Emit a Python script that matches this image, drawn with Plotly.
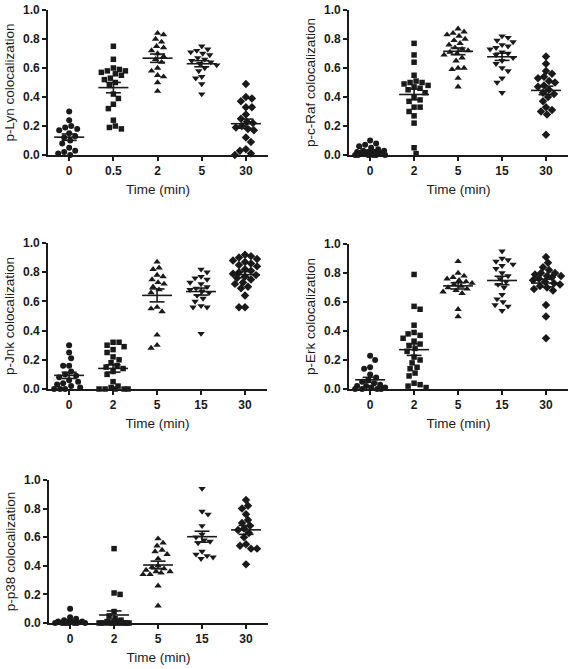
import numpy as np
import plotly.graph_objects as go

# ---------------- data ----------------
lyn_labels = ["0", "0.5", "2", "5", "30"]
other_labels = ["0", "2", "5", "15", "30"]

lyn_0 = [0.30, 0.24, 0.20, 0.19, 0.18, 0.17, 0.15, 0.13, 0.12, 0.10, 0.08, 0.05, 0.03, 0.02, 0.01, 0.0]
lyn_05 = [0.75, 0.66, 0.60, 0.59, 0.58, 0.58, 0.57, 0.56, 0.55, 0.53, 0.52, 0.50, 0.48, 0.42, 0.39, 0.35, 0.32, 0.24, 0.20, 0.19, 0.18]
lyn_2 = [0.84, 0.83, 0.80, 0.78, 0.75, 0.74, 0.72, 0.70, 0.68, 0.66, 0.64, 0.60, 0.58, 0.55, 0.54, 0.50, 0.44]
lyn_5 = [0.75, 0.73, 0.72, 0.71, 0.70, 0.69, 0.67, 0.66, 0.65, 0.64, 0.63, 0.62, 0.60, 0.58, 0.54, 0.53, 0.49, 0.42]
lyn_30 = [0.49, 0.40, 0.39, 0.37, 0.33, 0.33, 0.28, 0.25, 0.23, 0.22, 0.20, 0.19, 0.18, 0.17, 0.12, 0.09, 0.04, 0.03, 0.01, 0.0]

raf_0 = [0.10, 0.08, 0.07, 0.06, 0.05, 0.04, 0.03, 0.03, 0.02, 0.02, 0.02, 0.01, 0.01, 0.01, 0.01, 0.0, 0.0, 0.0, 0.0, 0.0, 0.0]
raf_2 = [0.77, 0.69, 0.64, 0.55, 0.51, 0.50, 0.50, 0.49, 0.48, 0.47, 0.46, 0.45, 0.43, 0.40, 0.38, 0.37, 0.33, 0.33, 0.30, 0.27, 0.22, 0.05, 0.01]
raf_5 = [0.87, 0.85, 0.84, 0.83, 0.82, 0.80, 0.79, 0.77, 0.76, 0.74, 0.73, 0.72, 0.71, 0.70, 0.69, 0.67, 0.65, 0.60, 0.60, 0.59, 0.53, 0.47]
raf_15 = [0.82, 0.81, 0.79, 0.78, 0.76, 0.75, 0.74, 0.73, 0.71, 0.70, 0.69, 0.67, 0.65, 0.63, 0.60, 0.58, 0.53, 0.50, 0.43]
raf_30 = [0.68, 0.63, 0.58, 0.56, 0.54, 0.53, 0.51, 0.50, 0.48, 0.47, 0.45, 0.43, 0.42, 0.40, 0.37, 0.33, 0.31, 0.30, 0.28, 0.14]

jnk_0 = [0.30, 0.25, 0.21, 0.16, 0.16, 0.12, 0.10, 0.09, 0.08, 0.06, 0.05, 0.04, 0.03, 0.02, 0.01, 0.0, 0.0, 0.0]
jnk_2 = [0.32, 0.32, 0.30, 0.29, 0.27, 0.25, 0.22, 0.20, 0.18, 0.16, 0.15, 0.14, 0.12, 0.10, 0.05, 0.02, 0.01, 0.0, 0.0, 0.0, 0.0, 0.0]
jnk_5 = [0.87, 0.83, 0.82, 0.78, 0.77, 0.75, 0.73, 0.72, 0.70, 0.68, 0.66, 0.56, 0.55, 0.53, 0.37, 0.30, 0.28]
jnk_15 = [0.82, 0.80, 0.77, 0.76, 0.75, 0.73, 0.72, 0.70, 0.69, 0.68, 0.67, 0.66, 0.64, 0.62, 0.60, 0.57, 0.56, 0.56, 0.38]
jnk_30 = [0.92, 0.91, 0.90, 0.89, 0.88, 0.87, 0.86, 0.85, 0.84, 0.82, 0.81, 0.80, 0.79, 0.78, 0.77, 0.76, 0.75, 0.73, 0.72, 0.70, 0.69, 0.64, 0.56, 0.56]

erk_0 = [0.23, 0.20, 0.15, 0.14, 0.10, 0.08, 0.06, 0.05, 0.04, 0.03, 0.02, 0.02, 0.01, 0.01, 0.0, 0.0, 0.0, 0.0]
erk_2 = [0.79, 0.57, 0.55, 0.44, 0.39, 0.38, 0.37, 0.35, 0.33, 0.31, 0.30, 0.28, 0.26, 0.22, 0.20, 0.18, 0.15, 0.14, 0.11, 0.09, 0.04, 0.03, 0.02, 0.01]
erk_5 = [0.88, 0.80, 0.78, 0.77, 0.76, 0.75, 0.74, 0.73, 0.72, 0.71, 0.70, 0.69, 0.68, 0.67, 0.66, 0.55, 0.50]
erk_15 = [0.95, 0.90, 0.89, 0.88, 0.86, 0.85, 0.83, 0.80, 0.78, 0.76, 0.74, 0.72, 0.70, 0.65, 0.62, 0.60, 0.58, 0.57, 0.54]
erk_30 = [0.91, 0.87, 0.84, 0.82, 0.80, 0.80, 0.79, 0.78, 0.78, 0.77, 0.76, 0.75, 0.74, 0.73, 0.72, 0.71, 0.70, 0.69, 0.68, 0.58, 0.50, 0.35]

p38_0 = [0.10, 0.04, 0.03, 0.02, 0.01, 0.01, 0.01, 0.0, 0.0, 0.0, 0.0, 0.0, 0.0, 0.0]
p38_2 = [0.52, 0.21, 0.20, 0.08, 0.05, 0.03, 0.02, 0.01, 0.0, 0.0, 0.0, 0.0, 0.0, 0.0, 0.0, 0.0, 0.0, 0.0, 0.0, 0.0]
p38_5 = [0.59, 0.56, 0.54, 0.51, 0.50, 0.48, 0.45, 0.40, 0.39, 0.38, 0.37, 0.36, 0.36, 0.35, 0.34, 0.34, 0.26, 0.12]
p38_15 = [0.94, 0.78, 0.76, 0.68, 0.62, 0.60, 0.58, 0.57, 0.56, 0.50, 0.48, 0.47, 0.46, 0.45]
p38_30 = [0.86, 0.82, 0.80, 0.76, 0.72, 0.70, 0.68, 0.66, 0.65, 0.63, 0.60, 0.55, 0.54, 0.52, 0.52, 0.41]

y_titles = ["p-Lyn colocalization", "p-c-Raf colocalization", "p-Jnk colocalization",
            "p-Erk colocalization", "p-p38 colocalization"]
x_title = "Time (min)"
y_ticks = [0.0, 0.2, 0.4, 0.6, 0.8, 1.0]

panels = [
    (lyn_labels, [lyn_0, lyn_05, lyn_2, lyn_5, lyn_30]),
    (other_labels, [raf_0, raf_2, raf_5, raf_15, raf_30]),
    (other_labels, [jnk_0, jnk_2, jnk_5, jnk_15, jnk_30]),
    (other_labels, [erk_0, erk_2, erk_5, erk_15, erk_30]),
    (other_labels, [p38_0, p38_2, p38_5, p38_15, p38_30]),
]

# ---------------- layout geometry (pixels) ----------------
W, H = 577, 669
boxes = [  # x0, x1, ytop, ybottom in pixels
    (48, 268, 10, 155),
    (349, 568, 10, 155),
    (48, 267, 243, 389),
    (349, 568, 244, 389),
    (49, 268, 480, 623),
]
symbols = ["circle", "square", "triangle-up", "triangle-down", "diamond"]
msizes = [6, 5.5, 6.5, 6.5, 6.5]
XR = [-0.48, 4.5]
INK = "#1a1a1a"
FONT = "Liberation Sans"


def swarm(vals, px_per_y, px_per_x, d=6.0, maxw=15.0, step=1.0):
    """Greedy beeswarm offsets (category units); width capped like Prism."""
    vals = np.asarray(vals, dtype=float)
    order = np.argsort(-vals, kind="stable")
    placed = []
    offs = np.zeros(len(vals))
    flip = 1
    cands = [0.0]
    k = 1
    while k * step <= maxw:
        cands += [k * step, -k * step]
        k += 1
    for i in order:
        y = vals[i] * px_per_y
        best, bestd = None, -1
        for x in cands:
            xx = x * flip
            md = min([np.hypot(xx - px, y - py) for px, py in placed] or [1e9])
            if md >= d:
                best = xx
                break
            if md > bestd + 1e-9:
                bestd, best = md, xx
        placed.append((best, y))
        offs[i] = best / px_per_x
        if best != 0:
            flip = -flip
    return offs


fig = go.Figure()
layout = {}
for p, ((labels, groups), (x0, x1, yt, yb)) in enumerate(zip(panels, boxes)):
    n = "" if p == 0 else str(p + 1)
    xa, ya = "x" + n, "y" + n
    px_per_x = (x1 - x0) / (XR[1] - XR[0])
    px_per_y = (yb - yt) / 1.0
    for g, vals in enumerate(groups):
        vals = np.asarray(vals, dtype=float)
        offs = swarm(vals, px_per_y, px_per_x)
        fig.add_trace(go.Scatter(
            x=g + offs, y=vals, mode="markers", xaxis=xa, yaxis=ya,
            marker=dict(symbol=symbols[g], size=msizes[g], color=INK, line=dict(width=0)),
            cliponaxis=False, showlegend=False, hoverinfo="y"))
        m = vals.mean()
        sem = vals.std(ddof=1) / np.sqrt(len(vals))
        hw, cw = 0.34, 0.17
        fig.add_trace(go.Scatter(
            x=[g - hw, g + hw, None, g, g, None, g - cw, g + cw, None, g - cw, g + cw],
            y=[m, m, None, m - sem, m + sem, None, m - sem, m - sem, None, m + sem, m + sem],
            mode="lines", xaxis=xa, yaxis=ya, line=dict(color=INK, width=1.6),
            cliponaxis=False, showlegend=False, hoverinfo="skip"))
    layout["xaxis" + n] = dict(
        domain=[x0 / W, x1 / W], range=XR, anchor=ya, automargin=False,
        tickmode="array", tickvals=list(range(len(labels))), ticktext=labels,
        ticks="outside", ticklen=4, tickwidth=1.5, tickcolor=INK,
        showline=True, linecolor=INK, linewidth=1.6, showgrid=False, zeroline=False,
        tickfont=dict(family=FONT, size=12, color=INK, weight="bold"),
        title=dict(text=x_title, standoff=7,
                   font=dict(family=FONT, size=13.5, color=INK)),
        fixedrange=True)
    layout["yaxis" + n] = dict(
        domain=[1 - yb / H, 1 - yt / H], range=[0, 1.0], anchor=xa, automargin=False,
        tickmode="array", tickvals=y_ticks, tickformat=".1f",
        ticks="outside", ticklen=4, tickwidth=1.5, tickcolor=INK,
        showline=True, linecolor=INK, linewidth=1.6, showgrid=False, zeroline=False,
        tickfont=dict(family=FONT, size=12, color=INK, weight="bold"),
        title=dict(text=y_titles[p], standoff=5,
                   font=dict(family=FONT, size=13.5, color=INK)),
        fixedrange=True)

fig.update_layout(
    width=W, height=H, margin=dict(l=0, r=0, t=0, b=0, autoexpand=False),
    paper_bgcolor="white", plot_bgcolor="white", **layout)

fig.write_html("out.html", config={"displayModeBar": False},
               post_script="document.body.style.margin='0';document.body.style.overflow='hidden';")
